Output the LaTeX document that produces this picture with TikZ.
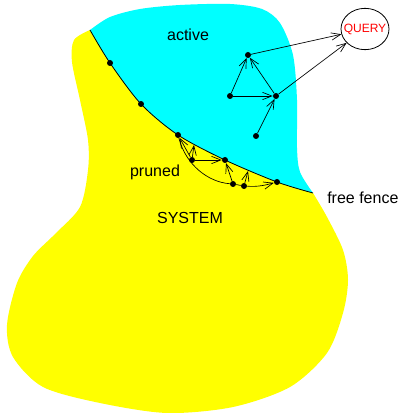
\documentclass[tikz,border=0pt]{standalone}
\usepackage{fontspec}
\setmainfont{Liberation Sans}
\usetikzlibrary{arrows.meta,shapes.geometric}
\definecolor{sysyellow}{RGB}{255,255,0}
\definecolor{actcyan}{RGB}{0,255,255}

\begin{document}
\begin{tikzpicture}[x=0.75pt,y=-0.75pt,font=\fontsize{12}{14}\selectfont,
  dot/.style={circle,fill,inner sep=0pt,minimum size=4.5pt},
  arr/.style={-{Straight Barb[length=7pt,width=5.5pt]},line width=0.5pt}]
  \useasboundingbox (0,0) rectangle (399,413);
  % regions
  \fill[sysyellow] plot[smooth,tension=0.5] coordinates {(90,30) (110,63) (141,104) (178,135) (225,160) (277,182) (313,193)}
    -- plot[smooth] coordinates {(313,193) (327,217) (343,250) (348,280) (343,313) (327,353) (290,387) (233,407) (167,413) (100,403) (43,387) (13,357) (7,325) (17,283) (33,256) (55,234) (80,207) (88,170) (88,140) (80,100) (72,62) (74,40) (90,30)} -- cycle;
  \fill[actcyan] plot[smooth,tension=0.5] coordinates {(90,30) (110,63) (141,104) (178,135) (225,160) (277,182) (313,193)}
    -- plot[smooth] coordinates {(313,193) (300,172) (297,148) (297,100) (293,55) (280,23) (262,9) (230,4) (180,5) (140,9) (110,17) (90,30)} -- cycle;
  \draw[line width=0.6pt] plot[smooth,tension=0.5] coordinates {(90,30) (110,63) (141,104) (178,135) (225,160) (277,182) (313,193)};
  \coordinate (fenceend) at (313,193);
  \coordinate (t1) at (194,145);
  \coordinate (t2) at (248,171);

  % labels
  \node (active) at (188,35) {active};
  \node (pruned) at (155,172) {pruned};
  \node (system) at (190,218) {SYSTEM};
  \node[anchor=west,inner sep=0pt] (fence) at (327,198) {free fence};

  % fence points
  \node[dot] (f1) at (110,63) {};
  \node[dot] (f2) at (141,104) {};
  \node[dot] (f3) at (178,135) {};
  \node[dot] (f4) at (225,160) {};
  \node[dot] (f5) at (277,182) {};
  % pruned points
  \node[dot] (p1) at (192,160) {};
  \node[dot] (p2) at (233,184) {};
  \node[dot] (p3) at (244,186) {};
  % active points
  \node[dot] (a1) at (248,55) {};
  \node[dot] (a2) at (230,96) {};
  \node[dot] (a3) at (276,96) {};
  \node[dot] (a4) at (256,136) {};

  \node[draw,line width=0.6pt,ellipse,minimum width=36pt,minimum height=31pt,inner sep=0pt] (query) at (365,29) {};
  \node[red,font=\fontsize{9}{11}\selectfont] (qlabel) at (query) {QUERY};

  % active arrows
  \draw[arr] (a2) -- (a1);
  \draw[arr] (a3) -- (a1);
  \draw[arr] (a2) -- (a3);
  \draw[arr] (a4) -- (a3);
  \draw[arr] (a1) -- (query);
  \draw[arr] (a3) -- (query);

  % pruned arrows
  \draw[arr] (p1) -- (f3);
  \draw[arr] (p1) -- (t1);
  \draw[arr] (p1) -- (f4);
  \draw[arr] (p2) -- (f4);
  \draw[arr] (p3) -- (t2);
  \draw[line width=0.5pt] (f3) .. controls (186,165) and (208,182) .. (p2) -- (p3);
  \draw[arr] (p3) .. controls (258,187) and (266,185) .. (f5);
\end{tikzpicture}
\end{document}
